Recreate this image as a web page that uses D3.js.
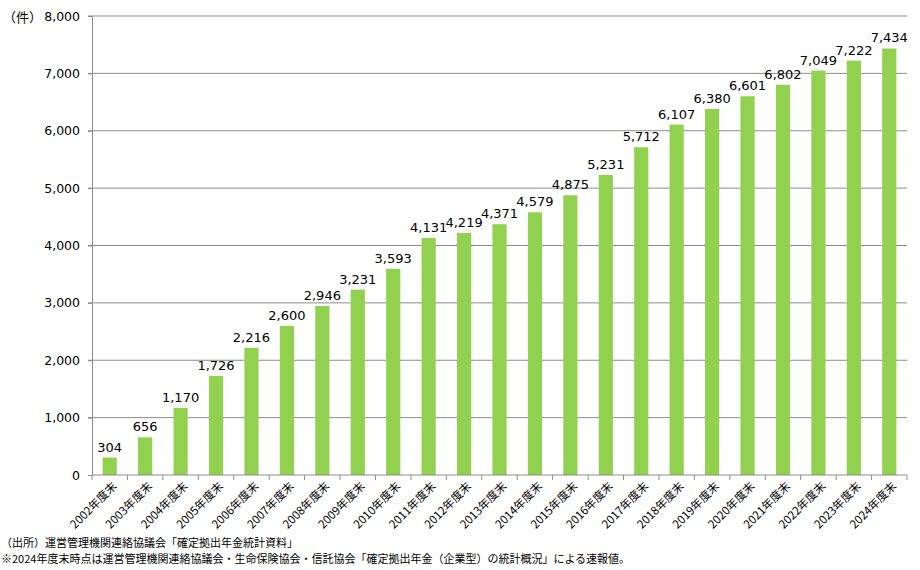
<!DOCTYPE html>
<html>
<head>
<meta charset="utf-8">
<script src="https://cdn.jsdelivr.net/npm/d3@7"></script>
<style>
  body { margin: 0; background: #fff; }
  svg { font-family: "Noto Sans CJK JP", "Noto Sans", sans-serif; }
</style>
</head>
<body>
<div id="chart"></div>
<script>
// data
const years = ["2002", "2003", "2004", "2005", "2006", "2007", "2008", "2009", "2010", "2011", "2012",
  "2013", "2014", "2015", "2016", "2017", "2018", "2019", "2020", "2021", "2022", "2023", "2024"];
const categories = years.map(y => y + "年度末");
const counts = [304, 656, 1170, 1726, 2216, 2600, 2946, 3231, 3593, 4131, 4219,
  4371, 4579, 4875, 5231, 5712, 6107, 6380, 6601, 6802, 7049, 7222, 7434];
const yTicks = [0, 1000, 2000, 3000, 4000, 5000, 6000, 7000, 8000];
const unitLabel = "（件）";
const notes = [
  "（出所）運営管理機関連絡協議会「確定拠出年金統計資料」",
  "※2024年度末時点は運営管理機関連絡協議会・生命保険協会・信託協会「確定拠出年金（企業型）の統計概況」による速報値。"
];

const WIDTH = 920;
const HEIGHT = 570;
const LEFT = 92, RIGHT = 907, TOP = 16, BOTTOM = 475;
const BAR_COLOR = "#92D050";
const GRID_COLOR = "#8c8c8c";

const svg = d3.select("#chart")
  .append("svg")
  .attr("width", WIDTH)
  .attr("height", HEIGHT);

const xScale = d3.scaleBand()
  .domain(categories)
  .range([LEFT, RIGHT])
  .paddingInner(0.6)
  .paddingOuter(0.3);

const yScale = d3.scaleLinear()
  .domain([0, 8000])
  .range([BOTTOM, TOP]);

const fmt = d3.format(",");

// gridlines
svg.append("g")
  .selectAll("line")
  .data(yTicks.filter(d => d > 0))
  .join("line")
  .attr("x1", LEFT - 4)
  .attr("x2", RIGHT)
  .attr("y1", d => yScale(d))
  .attr("y2", d => yScale(d))
  .attr("stroke", GRID_COLOR)
  .attr("stroke-width", 1);

// y axis
const yAxis = d3.axisLeft(yScale)
  .tickValues(yTicks)
  .tickFormat(fmt)
  .tickSize(4)
  .tickPadding(8);

const yg = svg.append("g")
  .attr("transform", `translate(${LEFT},0)`)
  .call(yAxis);
yg.select(".domain").attr("stroke", GRID_COLOR);
yg.selectAll(".tick line").attr("stroke", GRID_COLOR);
yg.selectAll(".tick text")
  .attr("font-family", "Verdana, 'DejaVu Sans', sans-serif")
  .attr("font-size", 12.5)
  .attr("fill", "#000");

// bars
svg.append("g")
  .selectAll("rect")
  .data(counts)
  .join("rect")
  .attr("x", (d, i) => xScale(categories[i]))
  .attr("y", d => yScale(d))
  .attr("width", xScale.bandwidth())
  .attr("height", d => yScale(0) - yScale(d))
  .attr("fill", BAR_COLOR);

// value labels
svg.append("g")
  .selectAll("text")
  .data(counts)
  .join("text")
  .attr("x", (d, i) => xScale(categories[i]) + xScale.bandwidth() / 2)
  .attr("y", d => yScale(d) - 6)
  .attr("text-anchor", "middle")
  .attr("font-family", "Verdana, 'DejaVu Sans', sans-serif")
  .attr("font-size", 13)
  .attr("fill", "#000")
  .text(d => fmt(d));

// x axis with ticks at category boundaries
const step = xScale.step();
const boundaries = d3.range(categories.length + 1).map(i => LEFT + i * step);

const xg = svg.append("g");
xg.append("line")
  .attr("x1", LEFT).attr("x2", RIGHT)
  .attr("y1", BOTTOM).attr("y2", BOTTOM)
  .attr("stroke", GRID_COLOR);
xg.selectAll(".bt")
  .data(boundaries)
  .join("line")
  .attr("class", "bt")
  .attr("x1", d => d).attr("x2", d => d)
  .attr("y1", BOTTOM).attr("y2", BOTTOM + 5)
  .attr("stroke", GRID_COLOR);
xg.selectAll("text")
  .data(categories)
  .join("text")
  .attr("transform", d => `translate(${xScale(d) + xScale.bandwidth() / 2 + 5},${BOTTOM + 9}) rotate(-45)`)
  .attr("text-anchor", "end")
  .attr("dy", "0.35em")
  .attr("font-size", 11.5)
  .attr("fill", "#000")
  .text(d => d);

// unit label
svg.append("text")
  .attr("x", 3)
  .attr("y", 22)
  .attr("font-size", 13)
  .attr("fill", "#000")
  .text(unitLabel);

// notes
svg.append("g")
  .selectAll("text")
  .data(notes)
  .join("text")
  .attr("x", 1)
  .attr("y", (d, i) => 547 + i * 16)
  .attr("font-size", 11)
  .attr("fill", "#000")
  .text(d => d);
</script>
</body>
</html>
